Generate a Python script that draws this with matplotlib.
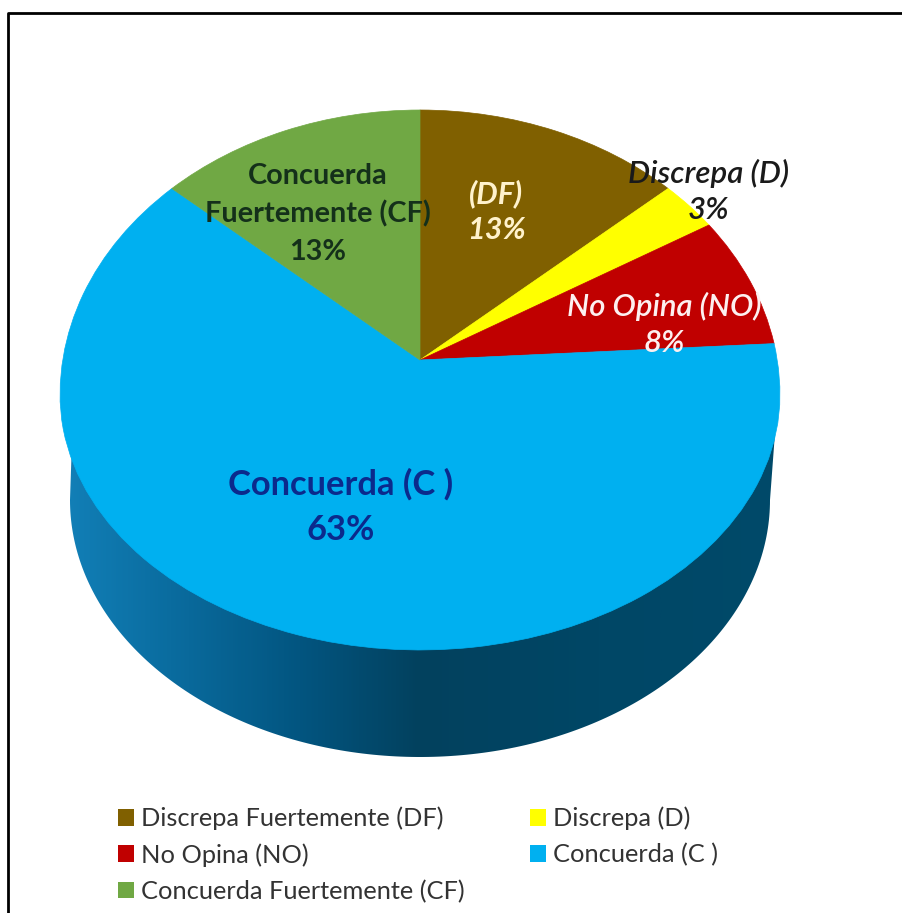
import numpy as np
import matplotlib as mpl
mpl.use('Agg')
import matplotlib.pyplot as plt
from matplotlib.patches import Polygon, Patch
from matplotlib.transforms import Affine2D
from matplotlib.colors import LinearSegmentedColormap

plt.rcParams['font.family'] = ['Lato', 'DejaVu Sans']

# data
categories = ['Discrepa Fuertemente (DF)', 'Discrepa (D)', 'No Opina (NO)', 'Concuerda (C )', 'Concuerda Fuertemente (CF)']
shares = [13, 3, 8, 63, 13]
colors = ['#806000', '#FFFF00', '#C00000', '#00B0F0', '#70A844']
slice_labels = ['(DF)\n13%', 'Discrepa (D)\n3%', 'No Opina (NO)\n8%', 'Concuerda (C )\n63%', 'Concuerda\nFuertemente (CF)\n13%']

# label styling
label_colors = ['#FFF2CC', '#1A1A1A', '#FDF0F0', '#0B2A8C', '#14301A']
label_pos = [(496, 212), (709, 191), (664, 324), (341, 507), (318, 214)]
label_style = ['italic', 'italic', 'italic', 'normal', 'normal']
label_size = [22, 22.5, 22.4, 24.8, 20.8]
label_space = [1.35, 1.35, 1.35, 1.5, 1.55]

# geometry of the tilted disc, in image pixels
cx, apex_y = 420, 360
rx, k_up, k_down = 360, 265, 290
rim_cy, rim_up, rim_down = 395, 285, 255
base_cy, base_rx, base_ry = 500, 350, 257


def rim_point(phi):
    # phi is clockwise from 12 o'clock
    v = np.cos(phi)
    return cx + rx * np.sin(phi), rim_cy - v * np.where(v > 0, rim_up, rim_down)


# bearing of each rim point as seen from the apex, used to place wedge edges
phi_grid = np.linspace(-np.pi / 2 - 0.4, 3 * np.pi / 2 + 0.4, 1601)
gx, gy = rim_point(phi_grid)
dy = apex_y - gy
bearing = np.unwrap(np.arctan2((gx - cx) / rx, dy / np.where(dy > 0, k_up, k_down)))

fig = plt.figure(figsize=(9.02, 9.13), dpi=100)
ax = fig.add_axes([0, 0, 1, 1])

wedges = ax.pie(shares, colors=colors, startangle=90, counterclock=False)[0]

# side wall with horizontal shading
wall_cmap = LinearSegmentedColormap.from_list('wall', ['#1280B8', '#0A6C9F', '#025580', '#03415E', '#004766', '#004A6A'])
t = np.linspace(np.pi, 0, 200)
wall_x = cx + base_rx * np.cos(t)
wall_y = base_cy + base_ry * np.sin(t)
wall = Polygon(np.r_[[[72, 440]], np.c_[wall_x, wall_y], [[775, 433]]], closed=True, fc='none', ec='none')
ax.add_patch(wall)
xpos = np.linspace(60, 790, 300)
shade = np.interp(xpos, [60, 170, 300, 420, 600, 790], [0, .2, .4, .6, .8, 1])
grad = ax.imshow(shade.reshape(1, -1), extent=(60, 790, 770, 400), cmap=wall_cmap, vmin=0, vmax=1, aspect='auto', zorder=1)
grad.set_clip_path(wall)

# warp the pie wedges onto the top face
for w in wedges:
    path = w.get_patch_transform().transform_path(w.get_path())
    poly = path.to_polygons(transform=Affine2D().scale(rx))[0]
    theta = np.arctan2(poly[:, 0], poly[:, 1])
    theta = np.where(theta < -np.pi / 2, theta + 2 * np.pi, theta)
    xs, ys = rim_point(np.interp(theta, bearing, phi_grid))
    at_apex = np.hypot(poly[:, 0], poly[:, 1]) < 1
    xs = np.where(at_apex, cx, xs)
    ys = np.where(at_apex, apex_y, ys)
    ax.add_patch(Polygon(np.c_[xs, ys], closed=True, fc=w.get_facecolor(), ec=w.get_facecolor(), lw=0.5, zorder=2))
    w.remove()

for lab, col, (x, y), st, sz, sp in zip(slice_labels, label_colors, label_pos, label_style, label_size, label_space):
    ax.text(x, y, lab, color=col, style=st, weight='bold' if st == 'normal' or lab.startswith('(DF') else 'semibold',
            fontsize=sz, ha='center', va='center', linespacing=sp, zorder=3)

# picture border
ax.plot([8, 8, 902], [913, 13, 13], color='black', lw=2, zorder=4)

order = [0, 2, 4, 1, 3]
handles = [Patch(fc=colors[i], ec='none', label=categories[i]) for i in order]
ax.legend(handles=handles, ncol=2, loc='lower left', bbox_to_anchor=(118 / 902, 1 - 903 / 913), frameon=False,
          fontsize=18.3, labelcolor='#333333', handlelength=0.63, handleheight=0.63, handletextpad=0.28,
          labelspacing=0.51, columnspacing=2.55, borderpad=0, borderaxespad=0)

ax.set_aspect('auto')
ax.set_xlim(0, 902)
ax.set_ylim(913, 0)
ax.axis('off')
fig.savefig('out.png', dpi=100, facecolor='white')
